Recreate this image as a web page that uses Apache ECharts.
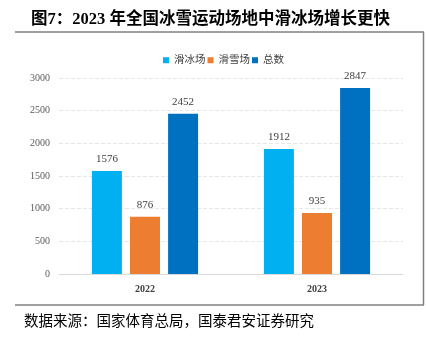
<!DOCTYPE html>
<html><head><meta charset="utf-8">
<script src="https://cdn.jsdelivr.net/npm/echarts@6/dist/echarts.min.js"></script>
<style>html,body{margin:0;padding:0;background:#fff}#c{width:426px;height:339px}</style>
</head><body><div id="c"></div>
<script>
const categories = ['2022', '2023'];
const seriesNames = ['滑冰场', '滑雪场', '总数'];
const skating = [1576, 1912];
const skiing = [876, 935];
const total = [2452, 2847];
const yTicks = [0, 500, 1000, 1500, 2000, 2500, 3000];
const colors = ['#00B0F0', '#ED7D31', '#0070C0'];

const serif = '"Liberation Serif","Times New Roman",serif';
const cjk = '"Liberation Serif","Noto Sans CJK SC",serif';
const chart = echarts.init(document.getElementById('c'), null, {renderer: 'canvas'});
const mk = (name, data, i) => ({
  name, type: 'bar', data, barWidth: 30, barGap: '27%',
  itemStyle: {color: colors[i]},
  label: {show: true, position: 'top', distance: 6, color: '#404040', fontFamily: serif, fontSize: 11}
});
chart.setOption({
  animation: false,
  title: {text: '图7：2023 年全国冰雪运动场地中滑冰场增长更快', left: 26, top: 6,
    textStyle: {fontFamily: cjk, fontWeight: 'bold', fontSize: 16.5, color: '#000'}},
  legend: {data: seriesNames, left: 158, top: 50, itemWidth: 6, itemHeight: 6, itemGap: 2,
    icon: 'rect', textStyle: {fontFamily: cjk, fontSize: 10.5, color: '#404040'}},
  grid: {left: 59, right: 23, top: 78, bottom: 65},
  xAxis: {type: 'category', data: categories,
    axisLine: {lineStyle: {color: '#D9D9D9'}}, axisTick: {show: false},
    axisLabel: {fontFamily: serif, fontWeight: 'bold', fontSize: 10, color: '#404040', margin: 10}},
  yAxis: {type: 'value', min: 0, max: 3000, interval: 500,
    axisLine: {show: false}, axisTick: {show: false},
    axisLabel: {fontFamily: serif, fontSize: 10, color: '#595959', margin: 9,
      formatter: v => yTicks.includes(v) ? String(v) : ''},
    splitLine: {lineStyle: {color: '#E6E6E6', type: 'dashed'}}},
  series: [mk(seriesNames[0], skating, 0), mk(seriesNames[1], skiing, 1), mk(seriesNames[2], total, 2)],
  graphic: [
    {type: 'line', shape: {x1: 15, y1: 32, x2: 424, y2: 32}, style: {stroke: '#808080', lineWidth: 1.5}},
    {type: 'line', shape: {x1: 423.5, y1: 32, x2: 423.5, y2: 305}, style: {stroke: '#808080', lineWidth: 1.5}},
    {type: 'line', shape: {x1: 15, y1: 305, x2: 424, y2: 305}, style: {stroke: '#808080', lineWidth: 1.5}},
    {type: 'text', left: 24, top: 313, style: {text: '数据来源：国家体育总局，国泰君安证券研究',
      font: '14.5px "Noto Sans CJK SC", serif', fill: '#000'}}
  ]
});
</script></body></html>
